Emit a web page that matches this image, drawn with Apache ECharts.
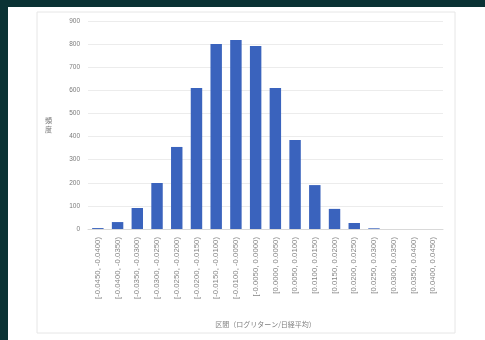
<!DOCTYPE html>
<html>
<head>
<meta charset="utf-8">
<script src="https://cdn.jsdelivr.net/npm/echarts@6/dist/echarts.min.js"></script>
<style>
  html, body { margin: 0; padding: 0; background: #0a3234; }
  #chart { width: 485px; height: 340px; }
</style>
</head>
<body>
<div id="chart"></div>
<script>
// bins of daily log return
const categories = [
  '[-0.0450, -0.0400)', '[-0.0400, -0.0350)', '[-0.0350, -0.0300)', '[-0.0300, -0.0250)',
  '[-0.0250, -0.0200)', '[-0.0200, -0.0150)', '[-0.0150, -0.0100)', '[-0.0100, -0.0050)',
  '[-0.0050, 0.0000)', '[0.0000, 0.0050)', '[0.0050, 0.0100)', '[0.0100, 0.0150)',
  '[0.0150, 0.0200)', '[0.0200, 0.0250)', '[0.0250, 0.0300)', '[0.0300, 0.0350)',
  '[0.0350, 0.0400)', '[0.0400, 0.0450)'
];
const counts = [4, 30, 91, 199, 355, 610, 800, 818, 792, 610, 385, 190, 87, 26, 3, 0, 0, 0];
const yTicks = [0, 100, 200, 300, 400, 500, 600, 700, 800, 900];

const yAxisTitle = '頻\n度';
const xAxisTitle = '区間（ログリターン/日経平均）';

let chart = echarts.init(document.getElementById('chart'));

chart.setOption({
  backgroundColor: '#0a3234',
  animation: false,
  graphic: [
    {
      type: 'rect',
      shape: {x: 8, y: 7, width: 477, height: 333},
      style: {fill: '#ffffff'},
      z: -10
    },
    {
      type: 'rect',
      shape: {x: 37, y: 12, width: 418, height: 321},
      style: {fill: 'none', stroke: '#e6e6e6', lineWidth: 1},
      z: -9
    },
    {
      type: 'text',
      left: 45,
      top: 116,
      style: {
        text: yAxisTitle,
        fill: '#777',
        font: '7px "Noto Sans CJK JP"',
        lineHeight: 9
      }
    }
  ],
  grid: {
    left: 88,
    right: 42,
    top: 21,
    bottom: 111
  },
  xAxis: {
    type: 'category',
    data: categories,
    name: xAxisTitle,
    nameLocation: 'middle',
    nameGap: 92,
    nameTextStyle: {
      color: '#808080',
      fontSize: 7,
      fontFamily: '"Noto Sans CJK JP"'
    },
    axisLine: {lineStyle: {color: '#d9d9d9'}},
    axisTick: {show: false},
    axisLabel: {
      rotate: 90,
      interval: 0,
      margin: 8,
      fontSize: 7.8,
      color: '#858585',
      fontFamily: 'Liberation Sans'
    }
  },
  yAxis: {
    type: 'value',
    min: yTicks[0],
    max: yTicks[yTicks.length - 1],
    interval: 100,
    axisLine: {show: false},
    axisTick: {show: false},
    axisLabel: {
      margin: 8,
      fontSize: 6.5,
      color: '#7a7a7a',
      fontFamily: 'Liberation Sans'
    },
    splitLine: {lineStyle: {color: '#ececec'}}
  },
  series: [
    {
      type: 'bar',
      data: counts,
      barWidth: '58%',
      itemStyle: {color: '#3a63bd'}
    }
  ]
});
</script>
</body>
</html>
